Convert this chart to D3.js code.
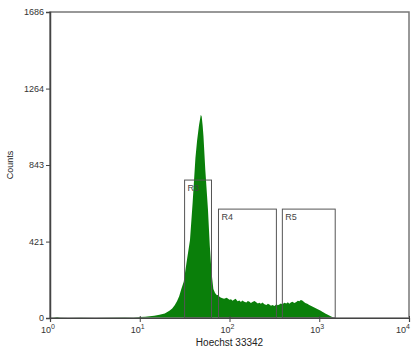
<!DOCTYPE html>
<html>
<head>
<meta charset="utf-8">
<script src="https://cdn.jsdelivr.net/npm/d3@7"></script>
<style>
  body { margin: 0; background: #fff; }
  text { font-family: "Liberation Sans", Arial, sans-serif; }
</style>
</head>
<body>
<div id="chart"></div>
<script>
// Hoechst 33342 intensity (channel value) and event counts
var intensity = [1, 1.1, 1.2, 1.3, 1.6, 2.2, 3.2, 4.6, 6.8, 8.5, 10, 11.5, 12.9, 14.5, 16.6, 19, 21.4, 23, 24.5, 26, 27.5,
    29, 30.9, 33.1, 36.3, 38.9, 41.7, 43.5, 45.7, 47.9, 49, 50.2, 51.3, 53.7, 57.5, 60.3, 63.1, 66.1, 69, 72.4, 75, 77.6, 82, 87,
    93, 100, 104, 108, 112, 117, 123, 129, 134, 139, 146, 154, 160, 167, 173, 180, 190, 200, 207, 215, 224, 233, 245, 258, 268,
    278, 290, 301, 317, 333, 346, 359, 373, 388, 409, 430, 447, 464, 482,
    501, 528, 555, 577, 600, 623, 647, 672, 699, 736, 774, 805, 836, 880, 926, 962, 1000, 1040, 1080, 1120, 1166, 1230,
    1292, 1340, 1395, 1450, 1506, 10000];
var counts = [0, 1, 6, 1, 0, 1, 0, 1, 3, 2, 5, 7, 10, 13, 18, 25, 40, 52, 70, 92, 120,
    158, 200, 300, 430, 640, 880, 975, 1060, 1120, 1110, 1060, 1000, 820, 600, 400, 250, 160, 138, 125, 128, 116, 110, 106,
    112, 100, 104, 95, 101, 106, 92, 96, 88, 97, 90, 86, 94, 89, 82, 88, 93, 86, 80, 84, 78, 86, 76, 72, 79,
    74, 68, 72, 66, 76, 70, 74, 80, 76, 84, 80, 87, 78, 85,
    90, 82, 88, 95, 92, 99, 96, 90, 82, 78, 72, 68, 64, 58, 52, 48, 44, 40, 35, 30, 25, 19,
    14, 9, 5, 2, 0, 0];

// Gates: name, low and high intensity, height in counts
var gateNames = ["R3", "R4", "R5"];
var gateLow = [31.6, 75.4, 388];
var gateHigh = [63, 333, 1506];
var gateTop = [760, 600, 600];

var xTicks = [1, 10, 100, 1000, 10000];
var yTicks = [0, 421, 843, 1264, 1686];

var margin = {top: 12, right: 3, bottom: 33, left: 50},
    width = 412 - margin.left - margin.right,
    height = 351 - margin.top - margin.bottom;

var svg = d3.select("#chart")
    .append("svg")
    .attr("width", 412)
    .attr("height", 351)
    .append("g")
    .attr("transform", "translate(" + margin.left + "," + margin.top + ")");

var x = d3.scaleLog()
    .domain([1, 10000])
    .range([0, width]);

var y = d3.scaleLinear()
    .domain([0, 1686])
    .range([height, 0]);

var data = intensity.map((v, i) => ({v: v, c: counts[i]}));

// Histogram area
svg.append("path")
    .datum(data)
    .attr("fill", "#0a7f0a")
    .attr("d", d3.area()
        .x(d => x(d.v))
        .y0(y(0))
        .y1(d => y(d.c)));

// Frame
svg.append("rect")
    .attr("x", 0)
    .attr("y", 0)
    .attr("width", width)
    .attr("height", height)
    .attr("fill", "none")
    .attr("stroke", "#777")
    .attr("stroke-width", 1.5);

// Gates
gateNames.forEach((name, i) => {
    svg.append("rect")
        .attr("x", x(gateLow[i]))
        .attr("y", y(gateTop[i]))
        .attr("width", x(gateHigh[i]) - x(gateLow[i]))
        .attr("height", y(0) - y(gateTop[i]))
        .attr("fill", "none")
        .attr("stroke", "#555")
        .attr("stroke-width", 1);
    svg.append("text")
        .attr("x", x(gateLow[i]) + 3)
        .attr("y", y(gateTop[i]) + 11)
        .text(name)
        .style("font-size", "9px")
        .style("fill", "#444");
});

// Y axis
var yAxis = svg.append("g")
    .call(d3.axisLeft(y).tickValues(yTicks).tickSize(4).tickPadding(2).tickFormat(d3.format("d")));
yAxis.select(".domain").attr("stroke", "#444").attr("stroke-width", 1.5);
yAxis.selectAll(".tick line").attr("stroke", "#444");
yAxis.selectAll(".tick text")
    .style("font-size", "9px")
    .style("font-family", "Liberation Sans, Arial, sans-serif")
    .style("fill", "#333");

// X axis
var xAxis = svg.append("g")
    .attr("transform", "translate(0," + height + ")")
    .call(d3.axisBottom(x).tickValues(xTicks).tickSize(4).tickPadding(1).tickFormat(""));
xAxis.select(".domain").attr("stroke", "#444").attr("stroke-width", 1.2);
xAxis.selectAll(".tick line").attr("stroke", "#444").attr("y1", -2);
xAxis.selectAll(".tick text").remove();

xTicks.forEach((t, i) => {
    var last = i === xTicks.length - 1;
    var lbl = svg.append("text")
        .attr("x", last ? width + 1 : x(t) - 2)
        .attr("y", height + 15)
        .attr("text-anchor", last ? "end" : "middle")
        .style("font-size", "9px")
        .style("fill", "#333");
    lbl.append("tspan").text("10");
    lbl.append("tspan")
        .attr("dy", -4)
        .style("font-size", "7px")
        .text(Math.round(Math.log10(t)));
});

// Axis titles
svg.append("text")
    .attr("x", width / 2)
    .attr("y", height + 28)
    .attr("text-anchor", "middle")
    .style("font-size", "10px")
    .style("fill", "#222")
    .text("Hoechst 33342");

svg.append("text")
    .attr("transform", "rotate(-90)")
    .attr("x", -y(843))
    .attr("y", -37)
    .attr("text-anchor", "middle")
    .style("font-size", "9px")
    .style("fill", "#222")
    .text("Counts");
</script>
</body>
</html>
